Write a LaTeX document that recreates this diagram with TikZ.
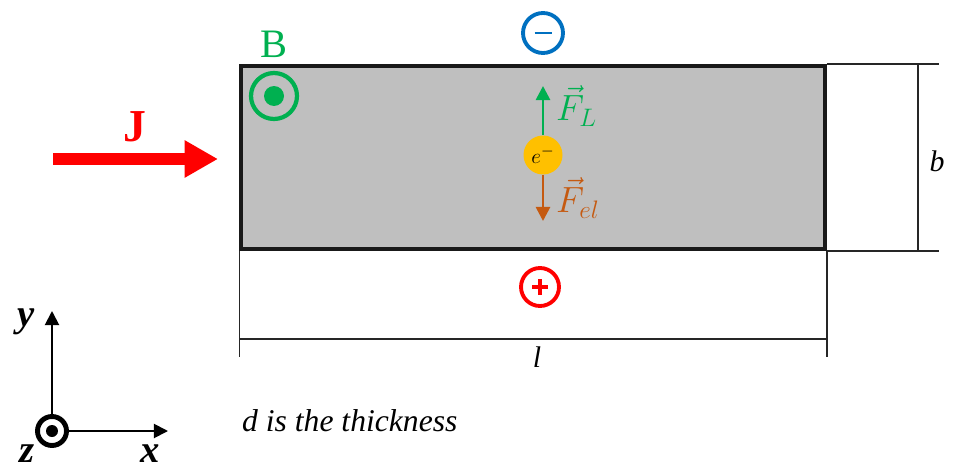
\documentclass[tikz,border=0pt]{standalone}
\usepackage{fontspec}
\setmainfont{Liberation Serif}
\usetikzlibrary{arrows.meta,positioning}
\definecolor{HallGreen} {RGB}{0,176,80}
\definecolor{HallBlue}  {RGB}{0,112,192}
\definecolor{HallRed}   {RGB}{255,0,0}
\definecolor{HallGold}  {RGB}{255,192,0}
\definecolor{HallBrown} {RGB}{197,90,17}
\definecolor{HallGray}  {RGB}{191,191,191}
\tikzset{
  dimline/.style={line width=0.6pt,black!85},
  chargering/.style={circle,line width=2.2pt,minimum size=1.0cm,inner sep=0pt},
  forcearrow/.style={line width=1.5pt,-{Triangle[length=8pt,width=8pt]}},
  axisarrow/.style={line width=1.1pt,-{Triangle[length=8pt,width=8pt]}},
}
\begin{document}
\begin{tikzpicture}[x=0.02cm,y=-0.02cm]
  \useasboundingbox (0,0) rectangle (956,473);
  %% Plate
  \node[draw=black!90,fill=HallGray,line width=2.3pt,
        minimum width=11.68cm,minimum height=3.66cm] (plate) at (533,157.5) {};
  %% Dimension b
  \draw[dimline] (plate.north east) -- ++(112,0) coordinate (bTop);
  \draw[dimline] (plate.south east) -- ++(112,0) coordinate (bBot);
  \draw[dimline] ([xshift=-0.42cm]bTop) -- ([xshift=-0.42cm]bBot);
  \node[font=\fontsize{17}{20}\selectfont\itshape] (bLabel) at (937,161) {b};
  %% Dimension l
  \draw[dimline] (plate.south west) -- ++(0,106) coordinate (lLeft);
  \draw[dimline] (plate.south east) -- ++(0,106) coordinate (lRight);
  \draw[dimline] ([yshift=0.36cm]lLeft) -- ([yshift=0.36cm]lRight);
  \node[font=\fontsize{17}{20}\selectfont\itshape] (lLabel) at (537,357) {l};
  %% Charges
  \node[chargering,draw=HallBlue,minimum size=0.8cm] (minus) at (543,33) {};
  \draw[HallBlue,line width=1.3pt] ([xshift=-0.17cm]minus.center) -- ([xshift=0.17cm]minus.center);
  \node[chargering,draw=HallRed,minimum size=0.76cm] (plus) at (540,287) {};
  \draw[HallRed,line width=2.2pt] ([xshift=-0.16cm]plus.center) -- ([xshift=0.16cm]plus.center);
  \draw[HallRed,line width=2.2pt] ([yshift=-0.16cm]plus.center) -- ([yshift=0.16cm]plus.center);
  %% Magnetic field
  \node[text=HallGreen,font=\fontsize{23}{26}\selectfont] (Blabel) at (274,44) {B};
  \node[chargering,draw=HallGreen,line width=2.4pt,minimum size=0.92cm] (Bring) at (274,96) {};
  \fill[HallGreen] (Bring.center) circle (0.2cm);
  %% Current
  \coordinate (Jstart) at (53,159);
  \coordinate (Jend) at (218,159);
  \draw[HallRed,line width=6.8pt,-{Triangle[length=19pt,width=20pt]}] (Jstart) -- (Jend);
  \node[text=HallRed,font=\fontsize{26}{28}\selectfont\bfseries] (Jlabel) at (135,127) {J};
  %% Electron and forces
  \node[circle,fill=HallGold,minimum size=0.78cm,inner sep=0pt,
        font=\fontsize{13}{14}\selectfont] (elec) at (543,155) {$e^-$};
  \coordinate (FLtip) at (543,86);
  \coordinate (Feltip) at (543,221);
  \draw[forcearrow,HallGreen] (elec.north) -- (FLtip);
  \draw[forcearrow,HallBrown] (elec.south) -- (Feltip);
  \node[text=HallGreen,font=\fontsize{22}{24}\selectfont,anchor=west] (FL) at (550,106) {$\vec{F}_L$};
  \node[text=HallBrown,font=\fontsize{22}{24}\selectfont,anchor=west] (Fel) at (550,198) {$\vec{F}_{el}$};
  %% Axes
  \node[circle,draw=black,line width=2.8pt,minimum size=0.58cm,inner sep=0pt] (origin) at (52,431) {};
  \fill (origin.center) circle (0.12cm);
  \coordinate (yEnd) at (52,311);
  \coordinate (xEnd) at (168,431);
  \draw[axisarrow] (origin.north) -- (yEnd);
  \draw[axisarrow] (origin.east) -- (xEnd);
  \node[font=\fontsize{22}{24}\selectfont\bfseries\itshape] (ylabel) at (26,322) {y};
  \node[font=\fontsize{22}{24}\selectfont\bfseries\itshape] (xlabel) at (150,454) {x};
  \node[font=\fontsize{22}{24}\selectfont\bfseries\itshape] (zlabel) at (27,454) {z};
  %% Note
  \node[font=\fontsize{18}{20}\selectfont\itshape,anchor=west] (note) at (236,421) {d is the thickness};
\end{tikzpicture}
\end{document}
